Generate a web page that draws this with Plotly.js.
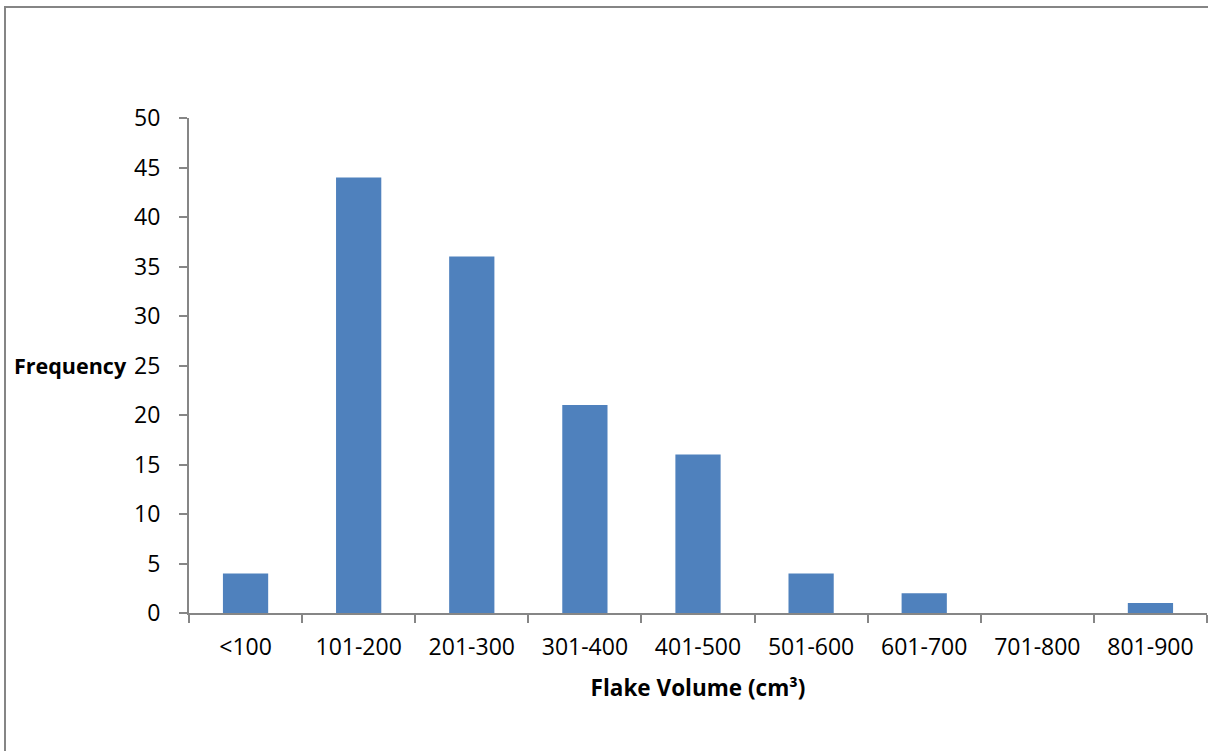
<!DOCTYPE html>
<html>
<head>
<meta charset="utf-8">
<script src="https://cdn.plot.ly/plotly-3.0.1.min.js"></script>
<style>
  html, body { margin: 0; padding: 0; background: #fff; overflow: hidden; }
  #chart { width: 1208px; height: 751px; }
</style>
</head>
<body>
<div id="chart"></div>
<script>
// Flake volume classes and how many flakes fall in each
const volumeClasses = ['<100', '101-200', '201-300', '301-400', '401-500', '501-600', '601-700', '701-800', '801-900'];
const frequency = [4, 44, 36, 21, 16, 4, 2, 0, 1];
const yTickValues = [0, 5, 10, 15, 20, 25, 30, 35, 40, 45, 50];

const W = 1208, H = 751;
const margin = { l: 189, r: 1, t: 118, b: 138 };
const plotW = W - margin.l - margin.r;
const plotH = H - margin.t - margin.b;

// outer frame of the chart, in paper units relative to the plot area
const frameLeft = (5 - margin.l) / plotW;
const frameTop = 1 + (margin.t - 7) / plotH;
const frameRight = 1 + (margin.r + 40) / plotW;
const frameBottom = -(margin.b + 20) / plotH;

const axisGray = '#868686';
const font = 'Open Sans, Lato, sans-serif';

const trace = {
  type: 'bar',
  x: volumeClasses,
  y: frequency,
  marker: { color: '#4F81BD', line: { width: 0 } },
  width: 0.4,
  hoverinfo: 'x+y'
};

const layout = {
  width: W,
  height: H,
  margin: margin,
  paper_bgcolor: '#ffffff',
  plot_bgcolor: '#ffffff',
  showlegend: false,
  font: { family: font, size: 23, color: '#000000' },
  xaxis: {
    type: 'category',
    range: [-0.5, volumeClasses.length - 0.5],
    showgrid: false,
    zeroline: false,
    showline: true,
    linecolor: axisGray,
    linewidth: 2,
    ticks: 'outside',
    tickson: 'boundaries',
    ticklen: 8,
    tickwidth: 2,
    tickcolor: axisGray,
    tickfont: { family: font, size: 23, color: '#000' },
    ticklabelstandoff: 12,
    title: {
      text: '<b>Flake Volume (cm³)</b>',
      font: { family: font, size: 22.5, color: '#000' },
      standoff: 20
    }
  },
  yaxis: {
    range: [0, 50],
    tickvals: yTickValues,
    ticktext: yTickValues.map(String),
    showgrid: false,
    zeroline: false,
    showline: true,
    linecolor: axisGray,
    linewidth: 2,
    ticks: 'outside',
    ticklen: 8,
    tickwidth: 2,
    tickcolor: axisGray,
    tickfont: { family: font, size: 23, color: '#000' },
    ticklabelstandoff: 14
  },
  annotations: [{
    text: '<b>Frequency</b>',
    xref: 'paper', yref: 'paper',
    x: (12 - margin.l) / plotW, y: 0.5,
    xanchor: 'left', yanchor: 'middle',
    showarrow: false,
    font: { family: font, size: 21.5, color: '#000' }
  }],
  shapes: [{
    type: 'rect',
    xref: 'paper', yref: 'paper',
    x0: frameLeft, x1: frameRight, y0: frameBottom, y1: frameTop,
    line: { color: '#858585', width: 2 },
    fillcolor: 'rgba(0,0,0,0)',
    layer: 'below'
  }]
};

Plotly.newPlot('chart', [trace], layout, { displayModeBar: false, staticPlot: true });
</script>
</body>
</html>
